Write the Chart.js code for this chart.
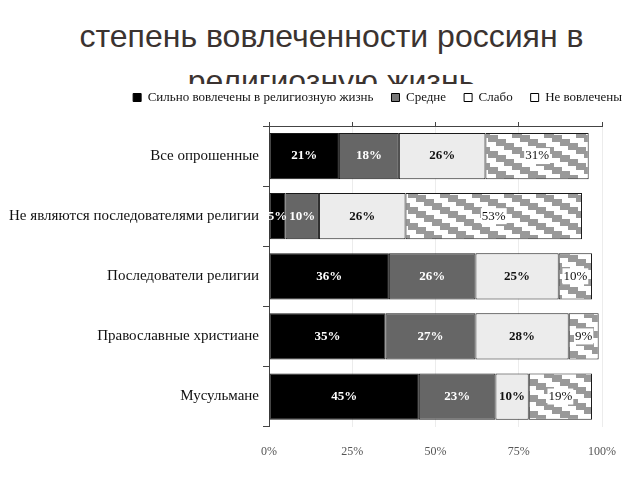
<!DOCTYPE html>
<html>
<head>
<meta charset="utf-8">
<script src="https://cdn.jsdelivr.net/npm/chart.js@4"></script>
<style>
  body { margin: 0; background: #fff; }
  #title {
    position: absolute; left: 0; top: 0; width: 640px; height: 84px;
    overflow: hidden; text-align: center;
    font-family: "Liberation Sans", Arial, sans-serif; font-size: 32px;
    line-height: 45px; color: #3b3330; padding: 14px 0 0 23px; box-sizing: border-box;
  }
  #wrap { position: absolute; left: 0; top: 67px; width: 640px; height: 413px; }
</style>
</head>
<body>
<div id="title">степень вовлеченности россиян в<br>религиозную жизнь</div>
<div id="wrap"><canvas id="c"></canvas></div>
<script>
const categories = [
    "Все опрошенные",
    "Не являются последователями религии",
    "Последователи религии",
    "Православные христиане",
    "Мусульмане"
];
const seriesNames = ["Сильно вовлечены в религиозную жизнь", "Средне", "Слабо", "Не вовлечены"];
const strong = [21, 5, 36, 35, 45];
const medium = [18, 10, 26, 27, 23];
const weak = [26, 26, 25, 28, 10];
const notInvolved = [31, 53, 10, 9, 19];
const xTicks = [0, 25, 50, 75, 100];

// stair-step hatch for "Не вовлечены"
function makeStairs() {
    const t = document.createElement("canvas");
    t.width = 32; t.height = 16;
    const g = t.getContext("2d");
    g.fillStyle = "#fff";
    g.fillRect(0, 0, 32, 16);
    g.fillStyle = "#999";
    for (let i = 0; i < 4; i++) {
        for (let dx = -32; dx <= 32; dx += 32) {
            for (let dy = -16; dy <= 16; dy += 16) {
                g.fillRect(i * 8 + dx, i * 4 + dy, 10, 7);
            }
        }
    }
    return g.createPattern(t, "repeat");
}
const stairs = makeStairs();

const serif = "'Liberation Serif', 'DejaVu Serif', serif";

const barLabels = {
    id: "barLabels",
    afterDatasetsDraw(chart) {
        const ctx = chart.ctx;
        ctx.save();
        ctx.textAlign = "center";
        ctx.textBaseline = "middle";
        chart.data.datasets.forEach((ds, di) => {
            const meta = chart.getDatasetMeta(di);
            meta.data.forEach((el, i) => {
                const p = el.getProps(["x", "y", "base"], true);
                const cx = (p.x + p.base) / 2;
                const txt = ds.data[i] + "%";
                if (di === 3) {
                    ctx.font = "13px " + serif;
                    const w = ctx.measureText(txt).width;
                    ctx.fillStyle = "#fff";
                    ctx.fillRect(cx - w / 2 - 1, p.y - 8, w + 2, 16);
                    ctx.fillStyle = "#111";
                } else {
                    ctx.font = "bold 13px " + serif;
                    ctx.fillStyle = di < 2 ? "#fff" : "#111";
                }
                ctx.fillText(txt, cx, p.y);
            });
        });
        ctx.restore();
    }
};

const common = { borderColor: "#1a1a1a", borderWidth: 1, borderSkipped: false,
                 barPercentage: 0.77, categoryPercentage: 1 };

new Chart(document.getElementById("c"), {
    type: "bar",
    data: {
        labels: categories,
        datasets: [
            { label: seriesNames[0], data: strong, backgroundColor: "#000", ...common },
            { label: seriesNames[1], data: medium, backgroundColor: "#666", ...common },
            { label: seriesNames[2], data: weak, backgroundColor: "#ececec", ...common },
            { label: seriesNames[3], data: notInvolved, backgroundColor: stairs, ...common }
        ]
    },
    options: {
        indexAxis: "y",
        responsive: true,
        maintainAspectRatio: false,
        animation: false,
        layout: { padding: { left: 0, right: 0, top: 6, bottom: 3 } },
        plugins: {
            legend: {
                position: "top",
                align: "end",
                labels: {
                    font: { family: serif, size: 13 },
                    color: "#111",
                    boxWidth: 8,
                    boxHeight: 8,
                    padding: 18,
                    generateLabels(chart) {
                        const items = Chart.defaults.plugins.legend.labels.generateLabels(chart);
                        items.forEach((it, i) => {
                            it.lineWidth = 1;
                            it.strokeStyle = "#000";
                            if (i === 3) it.fillStyle = "#fff";
                            if (i === 2) it.fillStyle = "#fff";
                            if (i === 1) it.fillStyle = "#777";
                        });
                        return items;
                    }
                }
            },
            tooltip: { enabled: false }
        },
        scales: {
            x: {
                stacked: true,
                min: 0, max: 100,
                afterBuildTicks(s) { s.ticks = xTicks.map(v => ({ value: v })); },
                ticks: {
                    callback: v => v + "%",
                    font: { family: serif, size: 12 },
                    color: "#555",
                    padding: 18
                },
                grid: { color: "#ececec", drawTicks: false },
                border: { display: false }
            },
            xTop: {
                position: "top",
                type: "linear",
                min: 0, max: 100,
                afterBuildTicks(s) { s.ticks = xTicks.map(v => ({ value: v })); },
                afterFit(s) { s.height = 12; },
                ticks: { display: false },
                grid: { drawOnChartArea: false, tickLength: 4, color: "#444" },
                border: { color: "#444" }
            },
            y: {
                stacked: true,
                afterFit(s) { s.width = 269; },
                ticks: {
                    font: { family: serif, size: 15 },
                    color: "#111",
                    padding: 4
                },
                grid: { drawOnChartArea: false, offset: true, tickLength: 6, color: "#444" },
                border: { color: "#444" }
            },
            yRight: {
                position: "right",
                type: "category",
                afterFit(s) { s.width = 38; },
                ticks: { display: false },
                grid: { display: false },
                border: { display: false }
            }
        }
    },
    plugins: [barLabels]
});
</script>
</body>
</html>
